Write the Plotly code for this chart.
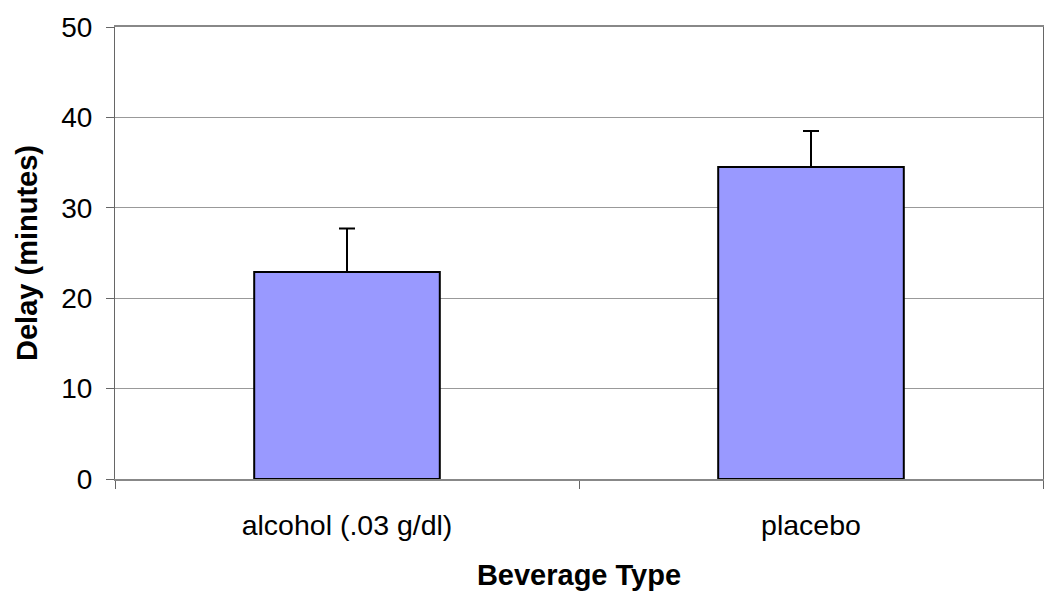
import plotly.graph_objects as go

categories = ["alcohol (.03 g/dl)", "placebo"]
delay_means = [22.9, 34.5]
delay_errors = [4.8, 4.0]
y_ticks = [0, 10, 20, 30, 40, 50]

font_family = "Liberation Sans, Arial, sans-serif"

fig = go.Figure()
fig.add_trace(go.Bar(
    x=categories,
    y=delay_means,
    marker=dict(color="#9999FF", line=dict(color="black", width=2)),
    error_y=dict(type="data", array=delay_errors, symmetric=False,
                 arrayminus=[0, 0], color="black", thickness=2, width=8),
    width=0.4,
))

fig.update_layout(
    width=1050, height=598,
    margin=dict(l=115, r=7, t=27, b=119, autoexpand=False),
    paper_bgcolor="white", plot_bgcolor="white",
    font=dict(family=font_family, color="black"),
    showlegend=False,
    xaxis=dict(
        type="category",
        automargin=False,
        tickson="boundaries",
        ticks="outside", ticklen=8, tickcolor="#666666", tickwidth=1,
        showline=True, linecolor="#888888", linewidth=1.5, mirror=True,
        showgrid=False,
        tickfont=dict(size=28.5, family=font_family),
        ticklabelstandoff=20,
        title=dict(text="<b>Beverage Type</b>", font=dict(size=29, family=font_family), standoff=25),
    ),
    yaxis=dict(
        range=[0, 50],
        automargin=False,
        tickvals=y_ticks,
        ticks="outside", ticklen=8, tickcolor="#666666", tickwidth=1,
        showline=True, linecolor="#666666", linewidth=1.2, mirror=True,
        showgrid=True, gridcolor="#999999", gridwidth=1.2,
        zeroline=False,
        tickfont=dict(size=28, family=font_family),
        ticklabelstandoff=8,
        title=dict(text="<b>Delay (minutes)</b>", font=dict(size=29, family=font_family), standoff=14),
    ),
)

fig.write_html("out.html", config={"displayModeBar": False},
               post_script="document.body.style.margin='0px';")
